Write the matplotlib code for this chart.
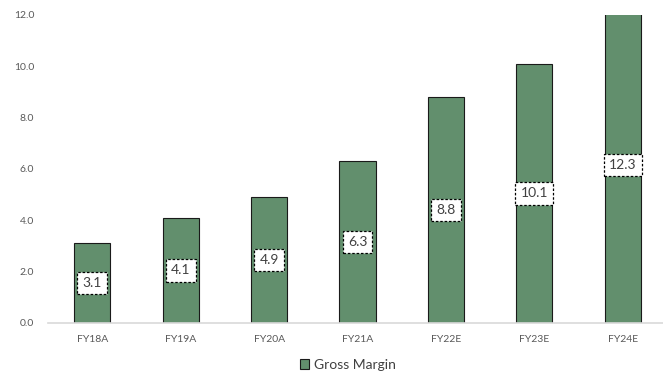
import numpy as np
import matplotlib.pyplot as plt

categories = ["FY18A", "FY19A", "FY20A", "FY21A", "FY22E", "FY23E", "FY24E"]
gross_margin = [3.1, 4.1, 4.9, 6.3, 8.8, 10.1, 12.3]
yticks = [0, 2, 4, 6, 8, 10, 12]

plt.rcParams['font.family'] = ['Lato', 'DejaVu Sans']

fig = plt.figure(figsize=(6.63, 3.74), dpi=100)
ax = fig.add_axes([48 / 663, 51 / 374, 619 / 663, 308 / 374])

x = np.arange(len(categories))
bars = ax.bar(x, gross_margin, width=0.41, color="#628f6d", edgecolor="#1a1a1a",
              linewidth=0.8, label="Gross Margin", zorder=2)

ax.set_ylim(0, 12)
ax.set_xlim(-0.5, len(categories) - 0.5)
ax.set_yticks(yticks)
ax.set_yticklabels([f"{v:.1f}" for v in yticks], fontsize=7.5, color="#595959")
ax.set_xticks(x)
ax.set_xticklabels(categories, fontsize=7.5, color="#595959")
ax.tick_params(length=0)
ax.tick_params(axis="x", pad=9)
ax.tick_params(axis="y", pad=10)

for s in ["top", "right", "left"]:
    ax.spines[s].set_visible(False)
ax.spines["bottom"].set_color("#d9d9d9")
ax.spines["bottom"].set_linewidth(1.2)

for xi, v in zip(x, gross_margin):
    ax.text(xi, v / 2, f"{v:.1f}", ha="center", va="center", fontsize=10, color="#404040",
            bbox=dict(boxstyle="square,pad=0.38", facecolor="white", edgecolor="black",
                      linestyle=(0, (2, 1.5)), linewidth=0.9), zorder=3, clip_on=False)

fig.legend(handles=[bars], labels=["Gross Margin"], loc="center", bbox_to_anchor=(348 / 663, 9 / 374),
           frameon=False, fontsize=10, handlelength=0.65, handleheight=0.65, handletextpad=0.3,
           labelcolor="#404040")

fig.savefig("out.png", dpi=100)
